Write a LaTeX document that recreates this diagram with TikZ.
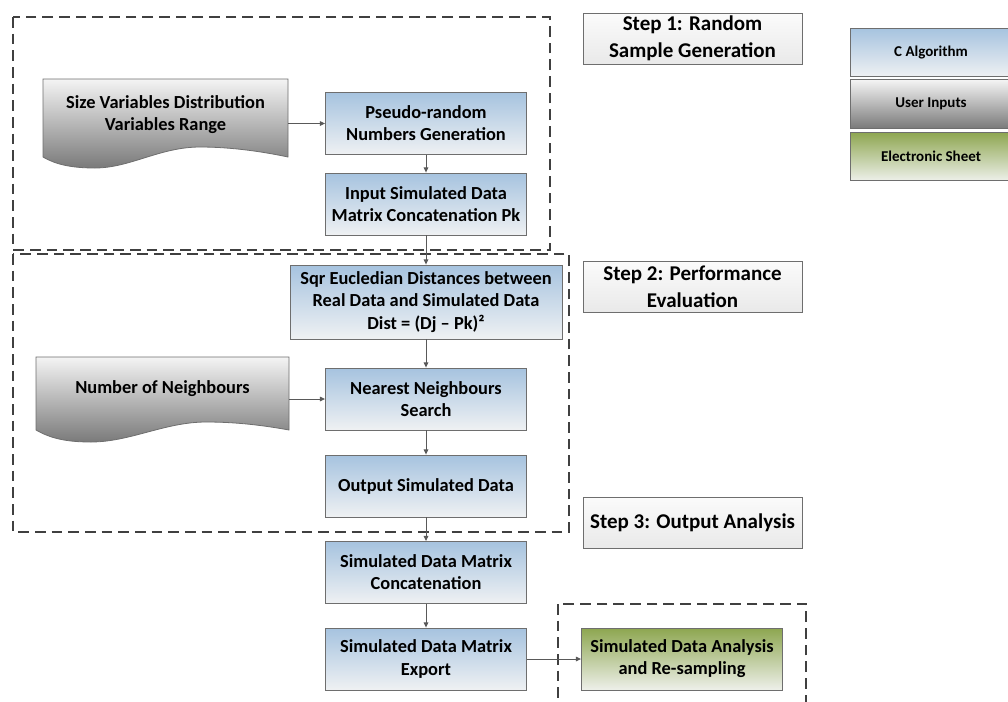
\documentclass[tikz,border=0pt]{standalone}
\usepackage{fontspec}
\setmainfont{Carlito}
\usetikzlibrary{arrows.meta}

\definecolor{boxline}{HTML}{6E6E6E}
\definecolor{dashline}{HTML}{404040}
\definecolor{algotop}{HTML}{A6C3DF}
\definecolor{algobot}{HTML}{EFF1F3}
\definecolor{usertop}{HTML}{F4F4F4}
\definecolor{userbot}{HTML}{7A7A7A}
\definecolor{sheettop}{HTML}{8DA650}
\definecolor{sheetbot}{HTML}{EEF0EA}
\definecolor{steptop}{HTML}{FBFBFB}
\definecolor{stepbot}{HTML}{E9E9E9}
\definecolor{flowline}{HTML}{595959}

\begin{document}
\begin{tikzpicture}[x=0.75pt,y=-0.75pt,
  every node/.style={font=\bfseries\fontsize{13.8}{16.6}\selectfont,align=center,inner sep=0pt},
  algo/.style={draw=boxline,line width=0.6pt,top color=algotop,bottom color=algobot,
    minimum width=150.75pt,minimum height=46.5pt},
  sheet/.style={algo,top color=sheettop,bottom color=sheetbot},
  userdoc/.style={draw=boxline,line width=0.6pt,top color=usertop,bottom color=userbot},
  stepbox/.style={draw=boxline,line width=0.6pt,top color=steptop,bottom color=stepbot,
    minimum width=164.25pt,minimum height=38.25pt,font=\bfseries\fontsize{15.75}{20}\selectfont},
  legend/.style={draw=boxline,line width=0.6pt,minimum width=121.5pt,minimum height=36.5pt,
    font=\bfseries\fontsize{11.25}{13.5}\selectfont},
  group/.style={draw=dashline,line width=1.1pt,dash pattern=on 8pt off 4.5pt},
  flow/.style={draw=flowline,line width=0.75pt,-{Triangle[length=4pt,width=3.5pt]}}]
\useasboundingbox (0,0) rectangle (1008,701);

% dashed groups
\draw[group] (13,17) rectangle (550,250);
\draw[group] (13,254) rectangle (569,532);
\draw[group] (558,604) rectangle (806,714);

% user inputs
\shade[userdoc] (43,79) -- (288,79) -- (288,157)
  .. controls (255,150) and (225,147) .. (200,147)
  .. controls (160,147) and (130,168) .. (95,168)
  .. controls (70,168) and (55,164) .. (43,157) -- cycle;
\node[minimum width=183.75pt,minimum height=53.25pt] (sizein) at (165.5,114.5)
  {Size Variables Distribution\\Variables Range};
\shade[userdoc] (36,357) -- (289,357) -- (289,430)
  .. controls (256,424) and (230,422) .. (206,422)
  .. controls (165,422) and (130,442) .. (91,442)
  .. controls (65,442) and (50,438) .. (36,430) -- cycle;
\node[minimum width=189.75pt,minimum height=48pt] (neighb) at (162.5,389)
  {Number of Neighbours};

% algorithm
\node[algo] (pseudo) at (426,123.5) {Pseudo-random\\Numbers Generation};
\node[algo] (inputsim) at (426,204) {Input Simulated Data\\Matrix Concatenation Pk};
\node[algo,minimum width=204pt,minimum height=55.5pt] (sqrdist) at (426,302)
  {Sqr Eucledian Distances between\\Real Data and Simulated Data\\Dist = (Dj – Pk)²};
\node[algo] (nearest) at (426,399) {Nearest Neighbours\\Search};
\node[algo] (outsim) at (426,486) {Output Simulated Data};
\node[algo] (concat) at (426,572.5) {Simulated Data Matrix\\Concatenation};
\node[algo] (export) at (426,659) {Simulated Data Matrix\\Export};
\node[sheet] (analysis) at (682,659) {Simulated Data Analysis\\and Re-sampling};

% steps
\node[stepbox] (step1) at (692.5,38.5) {Step 1: Random\\Sample Generation};
\node[stepbox] (step2) at (692.5,286.5) {Step 2: Performance\\Evaluation};
\node[stepbox] (step3) at (692.5,522.5) {Step 3: Output Analysis};

% legend
\node[legend,top color=algotop,bottom color=algobot] (calgo) at (931,52.5) {C Algorithm};
\node[legend,top color=usertop,bottom color=userbot] (userin) at (931,104) {User Inputs};
\node[legend,top color=sheettop,bottom color=sheetbot] (esheet) at (931,156.5) {Electronic Sheet};

\draw[flow] (sizein.east |- pseudo.west) -- (pseudo.west);
\draw[flow] (pseudo) -- (inputsim);
\draw[flow] (inputsim) -- (sqrdist);
\draw[flow] (sqrdist) -- (nearest);
\draw[flow] (neighb.east |- nearest.west) -- (nearest.west);
\draw[flow] (nearest) -- (outsim);
\draw[flow] (outsim) -- (concat);
\draw[flow] (concat) -- (export);
\draw[flow] (export) -- (analysis);
\end{tikzpicture}
\end{document}
